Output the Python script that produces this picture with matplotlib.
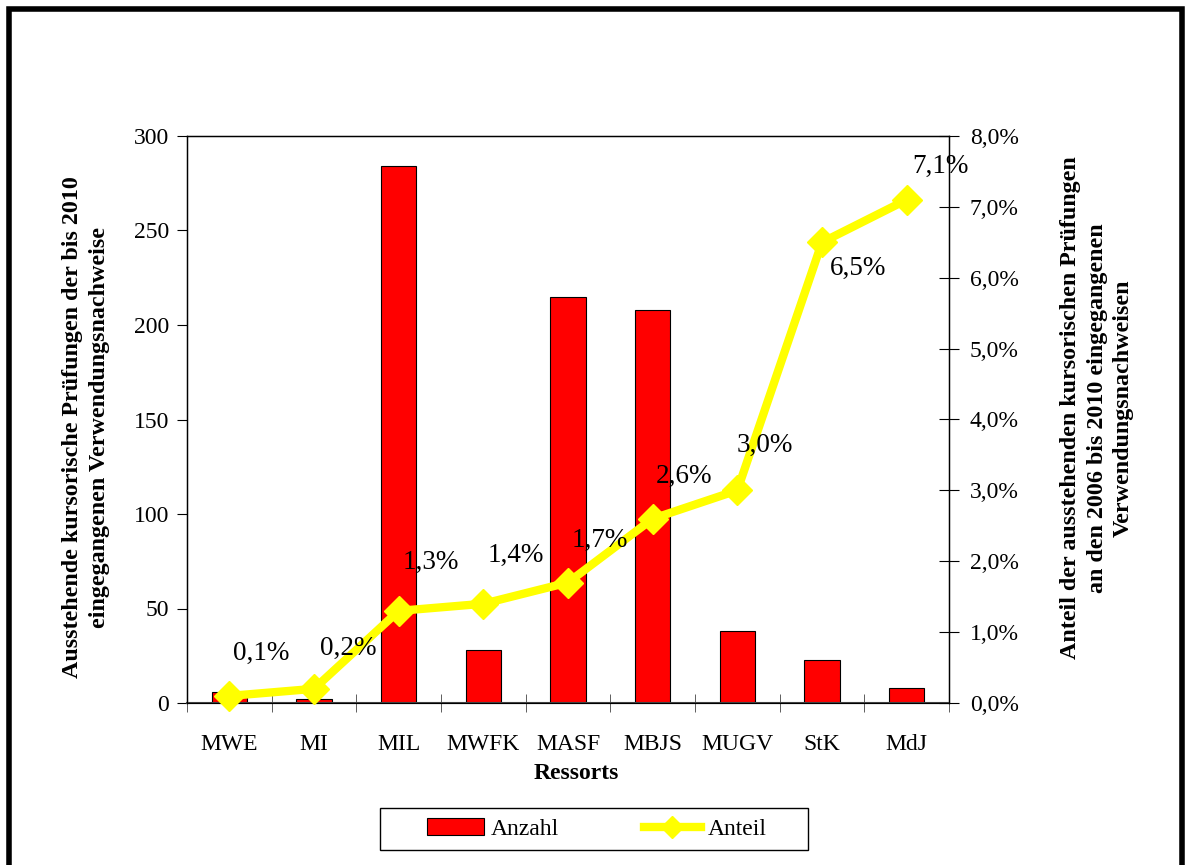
import matplotlib
matplotlib.use("Agg")
import matplotlib.pyplot as plt
from matplotlib.patches import Rectangle
from matplotlib.lines import Line2D
from matplotlib.ticker import FuncFormatter, MultipleLocator

categories = ["MWE", "MI", "MIL", "MWFK", "MASF", "MBJS", "MUGV", "StK", "MdJ"]
anzahl = [6, 2, 284, 28, 215, 208, 38, 23, 8]
anteil = [0.1, 0.2, 1.3, 1.4, 1.7, 2.6, 3.0, 6.5, 7.1]
anteil_labels = ["0,1%", "0,2%", "1,3%", "1,4%", "1,7%", "2,6%", "3,0%", "6,5%", "7,1%"]
label_offsets = [(32, 43), (34, 40), (32, 48), (32, 48), (32, 42), (31, 42), (27, 45), (36, -26), (34, 33)]

plt.rcParams['font.family'] = ['Liberation Serif', 'DejaVu Serif']

W, H = 1188, 865
fig = plt.figure(figsize=(W / 100, H / 100), dpi=100)
ax = fig.add_axes([187 / W, 1 - 703 / H, 762 / W, 567 / H])
x = list(range(len(categories)))
ax.bar(x, anzahl, width=0.42, color="#FF0000", edgecolor="black", linewidth=0.8, zorder=2)
ax.set_xlim(-0.5, len(categories) - 0.5)
ax.set_ylim(0, 300)
ax.yaxis.set_major_locator(MultipleLocator(50))
ax.set_xticks(x)
ax.set_xticklabels(categories, fontsize=17)
ax.set_xticks([i + 0.5 for i in range(-1, len(categories))], minor=True)
ax.tick_params(axis='x', which='major', length=0, pad=22)
ax.tick_params(axis='x', which='minor', direction='inout', length=13, color='#444444')
ax.tick_params(axis='y', labelsize=17, direction='out', length=7, pad=6)
for s in ax.spines.values():
    s.set_linewidth(1.0)
ax.spines['bottom'].set_color('#444444')
ax.spines['bottom'].set_linewidth(1.5)
ax.set_xlabel("Ressorts", fontsize=17, fontweight='bold')
ax.xaxis.set_label_coords(0.5105, -0.105)
ax.set_ylabel("Ausstehende kursorische Prüfungen der bis 2010\neingegangenen Verwendungsnachweise",
              fontsize=17.3, fontweight='bold', linespacing=1.35)
ax.yaxis.set_label_coords((110 - 187) / 762, (703 - 427) / 567)

ax2 = ax.twinx()
ax2.plot(x, anteil, color="#FFFF00", linewidth=6, marker='D', markersize=15,
         markeredgecolor="#FFFF00", zorder=3, clip_on=False)
ax2.set_ylim(0, 8)
ax2.yaxis.set_major_locator(MultipleLocator(1))
ax2.yaxis.set_major_formatter(FuncFormatter(lambda v, p: f"{v:.1f}".replace('.', ',') + "%"))
ax2.tick_params(axis='y', labelsize=17, direction='inout', length=15, pad=7.5)
ax2.set_ylabel("Anteil der ausstehenden kursorischen Prüfungen\nan den 2006 bis 2010 eingegangenen\nVerwendungsnachweisen",
               fontsize=17.3, fontweight='bold', linespacing=1.35)
ax2.yaxis.set_label_coords((1060 - 187) / 762, (703 - 408) / 567)
for xi, yi, lab, off in zip(x, anteil, anteil_labels, label_offsets):
    ax2.annotate(lab, (xi, yi), xytext=(off[0], off[1]), textcoords='offset pixels',
                 ha='center', va='center', fontsize=19.5, zorder=4)

handles = [Rectangle((0, 0), 1, 1, facecolor="#FF0000", edgecolor="black", linewidth=0.8),
           Line2D([0], [0], color="#FFFF00", linewidth=6, marker='D', markersize=11,
                  markeredgecolor="#FFFF00")]
leg = fig.legend(handles, ["Anzahl", "Anteil"], loc='center left',
                 bbox_to_anchor=(427 / W, 1 - 829 / H),
                 ncol=2, fontsize=17, frameon=False, handlelength=2.4,
                 columnspacing=3.6, borderpad=0, handletextpad=0.3, borderaxespad=0)
fig.patches.append(Rectangle((380 / W, 1 - 850 / H), 428 / W, 42 / H, transform=fig.transFigure,
                             fill=False, edgecolor='black', linewidth=1.0, zorder=5))

fig.patches.append(Rectangle((0.0075, -0.02), 0.9875, 1.01, transform=fig.transFigure,
                             fill=False, edgecolor='black', linewidth=4, zorder=10))

fig.savefig("out.png", dpi=100)
